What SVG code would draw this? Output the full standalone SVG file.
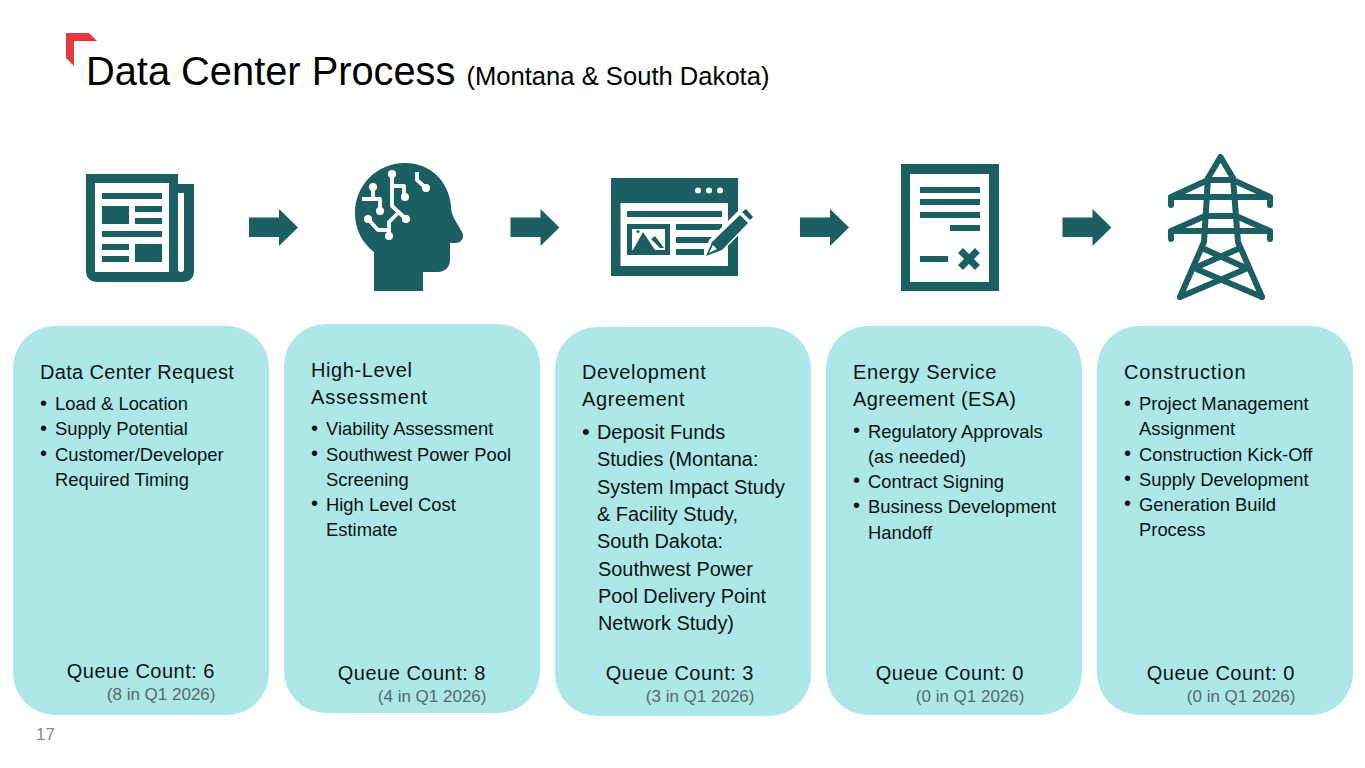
<svg xmlns="http://www.w3.org/2000/svg" width="1365" height="768" viewBox="0 0 1365 768">
<style>
text{font-family:"Liberation Sans",Arial,sans-serif;fill:#0a1414}
.h{font-size:20px;letter-spacing:.6px}
.b{font-size:18.4px}
.c{font-size:19.900px}
.d{font-size:20px}
.q{font-size:20px;letter-spacing:.5px;text-anchor:end}
.s{font-size:17px;fill:#566a6c;text-anchor:end}
.card{fill:#aee7e8}
.t{fill:#1c5f62}
.w{fill:#fff}
.cw{fill:none;stroke:#fff;stroke-width:3.800;stroke-linejoin:round}
.tw{fill:none;stroke:#1c5f62;stroke-width:6;stroke-linecap:round;stroke-linejoin:round}
</style>
<defs>
<polygon id="arr" class="t" points="0,8.500 30,8.500 30,0 49,18.500 30,37 30,28 0,28"/>
</defs>
<g id="header">
<polygon points="66,33 89,33 97,41 74,41 74,66 66,58" fill="#e5383f"/>
<text x="86" y="85" font-size="39.800" style="fill:#000">Data Center Process <tspan font-size="25.600">(Montana &amp; South Dakota)</tspan></text>
</g>
<g id="connectors">
<use href="#arr" x="249" y="209"/>
<use href="#arr" x="510.500" y="209"/>
<use href="#arr" x="800" y="209"/>
<use href="#arr" x="1062.500" y="209"/>
</g>
<g id="icon-news">
<path class="t" d="M86 174H178V184H194V272A10 10 0 0 1 184 282H96A10 10 0 0 1 86 272Z"/>
<rect class="w" x="95" y="183" width="74" height="89"/>
<path class="w" d="M178 193H184V269A3 3 0 0 1 178 269Z"/>
<path class="t" d="M102 193h60v6h-60zM102 206h27v18h-27zM135 206h27v6h-27zM135 218h27v6h-27zM102 231h60v6h-60zM102 244h27v6h-27zM102 256h27v6h-27zM135 244h27v18h-27z"/>
</g>
<g id="icon-head">
<path class="t" d="M374 291V252C362 243 355 229 355 213C355 185 377 163 405 163C431 163 449 182 451 206C451 211 452 214 455 220L462 232C465 238 461 243 456 243H450V260C450 267 445 272 438 272H423V291Z"/>
<path class="cw" d="M392 174V206L406 219M392 186H404V197M399 212L389 222V236M368 219L378 230H389M373 187V199M362 199H380V211M417 172V180L426 188"/>
<g class="w"><circle cx="392" cy="174" r="4"/><circle cx="406" cy="219" r="4"/><circle cx="405" cy="197" r="4"/><circle cx="389" cy="236" r="4"/><circle cx="368" cy="219" r="4"/><circle cx="373" cy="187" r="4"/><circle cx="380" cy="211" r="4"/><circle cx="426" cy="188" r="4"/></g>
</g>
<g id="icon-browser">
<rect class="t" x="611" y="178" width="127" height="98"/>
<rect class="w" x="620.500" y="203" width="107.500" height="63"/>
<g class="w"><circle cx="698" cy="190.500" r="3"/><circle cx="709" cy="190.500" r="3"/><circle cx="720" cy="190.500" r="3"/></g>
<path class="t" d="M627 211h95v6h-95zM627 224h43v31h-43zM676 224h46v6h-46zM676 237h36v6h-36zM676 249h28v6h-28z"/>
<rect class="w" x="632" y="229" width="33" height="21"/>
<path class="t" d="M633 250L643 232L655 250ZM651 239L655 236L664 248H660Z"/>
<circle class="t" cx="638" cy="231.500" r="1.500"/>
<path d="M703 259L709 240L739 210L745 205L756 217L751 222L723 251Z" fill="#fff"/>
<path class="t" d="M706 256L712 242L740 215L748 223L722 250ZM742 212L746 209L753 217L750 220Z"/>
<path class="w" d="M709 253L713 245L717 249Z"/>
</g>
<g id="icon-doc">
<rect class="t" x="901" y="164" width="98" height="127"/>
<rect class="w" x="910" y="174" width="79" height="108"/>
<path class="t" d="M920 187h60v6h-60zM920 199h60v6h-60zM920 212h60v6h-60zM950 225h30v6h-30zM920 256h28v6h-28z"/>
<path d="M960.500 250.500L977.500 267.500M977.500 250.500L960.500 267.500" fill="none" stroke="#1c5f62" stroke-width="7"/>
</g>
<g id="icon-tower" class="tw">
<path d="M1208 178L1220.500 157L1233 178M1208 178L1204 242L1180 297M1233 178L1238 242L1262 297"/>
<path d="M1171 197H1270M1171 197V205M1270 197V205M1171 197L1208 180H1233L1270 197"/>
<path d="M1171 231H1270M1171 231V239M1270 231V239M1171 231L1205 216H1236L1270 231"/>
<path d="M1202 248L1244 267M1240 248L1197 267M1194 268L1262 297M1248 268L1180 297"/>
</g>
<g id="card1">
<rect class="card" x="13" y="326" width="256" height="389" rx="42"/>
<text class="h" x="40" y="379" style="letter-spacing:.33px">Data Center Request</text>
<text class="b"><tspan class="d" x="40" y="410">•</tspan><tspan x="55" y="410">Load &amp; Location</tspan><tspan class="d" x="40" y="435">•</tspan><tspan x="55" y="435">Supply Potential</tspan><tspan class="d" x="40" y="460">•</tspan><tspan x="55" y="461">Customer/Developer</tspan><tspan x="55" y="486">Required Timing</tspan></text>
<text class="q" x="215" y="678">Queue Count: 6</text>
<text class="s" x="215.500" y="700">(8 in Q1 2026)</text>
</g>
<g id="card2">
<rect class="card" x="284" y="324" width="256" height="389" rx="42"/>
<text class="h"><tspan x="311" y="377">High-Level</tspan><tspan x="311" y="404" style="letter-spacing:.8px">Assessment</tspan></text>
<text class="b"><tspan class="d" x="311" y="435">•</tspan><tspan x="326" y="435">Viability Assessment</tspan><tspan class="d" x="311" y="460">•</tspan><tspan x="326" y="461">Southwest Power Pool</tspan><tspan x="326" y="486">Screening</tspan><tspan class="d" x="311" y="510">•</tspan><tspan x="326" y="511">High Level Cost</tspan><tspan x="326" y="536">Estimate</tspan></text>
<text class="q" x="486" y="680">Queue Count: 8</text>
<text class="s" x="486.500" y="702">(4 in Q1 2026)</text>
</g>
<g id="card3">
<rect class="card" x="555" y="327" width="256" height="389" rx="42"/>
<text class="h"><tspan x="582" y="379">Development</tspan><tspan x="582" y="406">Agreement</tspan></text>
<text class="c"><tspan class="d" style="font-size:22px" x="582" y="439">•</tspan><tspan x="597" y="439">Deposit Funds</tspan><tspan x="597" y="466">Studies (Montana:</tspan><tspan x="597" y="494">System Impact Study</tspan><tspan x="597" y="521">&amp; Facility Study,</tspan><tspan x="597" y="548">South Dakota:</tspan><tspan x="598" y="576">Southwest Power</tspan><tspan x="598" y="603">Pool Delivery Point</tspan><tspan x="598" y="630">Network Study)</tspan></text>
<text class="q" x="754" y="680">Queue Count: 3</text>
<text class="s" x="754.500" y="702">(3 in Q1 2026)</text>
</g>
<g id="card4">
<rect class="card" x="826" y="326" width="256" height="389" rx="42"/>
<text class="h"><tspan x="853" y="379">Energy Service</tspan><tspan x="853" y="406" style="letter-spacing:.45px">Agreement (ESA)</tspan></text>
<text class="b"><tspan class="d" x="853" y="437">•</tspan><tspan x="868" y="438">Regulatory Approvals</tspan><tspan x="868" y="463">(as needed)</tspan><tspan class="d" x="853" y="487">•</tspan><tspan x="868" y="488">Contract Signing</tspan><tspan class="d" x="853" y="512">•</tspan><tspan x="868" y="513">Business Development</tspan><tspan x="868" y="539">Handoff</tspan></text>
<text class="q" x="1024" y="680">Queue Count: 0</text>
<text class="s" x="1024.500" y="702">(0 in Q1 2026)</text>
</g>
<g id="card5">
<rect class="card" x="1097" y="326" width="256" height="389" rx="42"/>
<text class="h" x="1124" y="379" style="letter-spacing:.85px">Construction</text>
<text class="b"><tspan class="d" x="1124" y="410">•</tspan><tspan x="1139" y="410">Project Management</tspan><tspan x="1139" y="435">Assignment</tspan><tspan class="d" x="1124" y="460">•</tspan><tspan x="1139" y="461">Construction Kick-Off</tspan><tspan class="d" x="1124" y="485">•</tspan><tspan x="1139" y="486">Supply Development</tspan><tspan class="d" x="1124" y="510">•</tspan><tspan x="1139" y="511">Generation Build</tspan><tspan x="1139" y="536">Process</tspan></text>
<text class="q" x="1295" y="680">Queue Count: 0</text>
<text class="s" x="1295.500" y="702">(0 in Q1 2026)</text>
</g>
<text x="36" y="740" font-size="17" style="fill:#8a8a8a">17</text>
</svg>
